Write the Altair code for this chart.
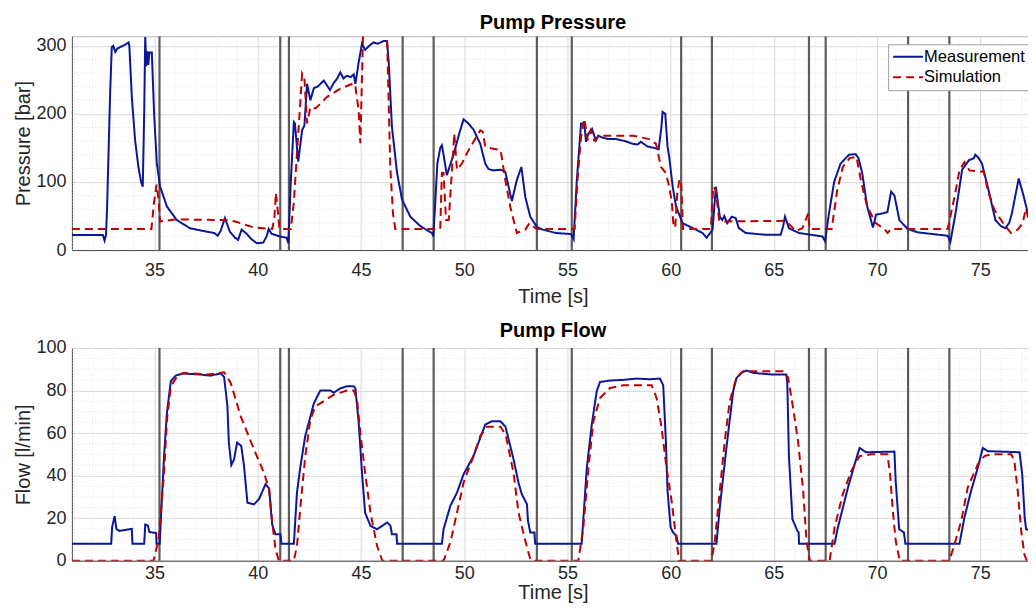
import altair as alt
import pandas as pd

# ---------------- data ----------------
events = [35.24, 41.09, 41.51, 47.02, 48.52, 53.52, 55.21, 60.51, 62.0, 66.70, 67.51, 71.5, 73.5]

p_meas_t = [31.0, 32.5, 32.58, 32.65, 32.7, 32.85, 32.93, 33.0, 33.1, 33.2, 33.4, 33.6, 33.74, 33.78, 33.9,
            34.06, 34.22, 34.35, 34.43, 34.5, 34.55, 34.6, 34.65, 34.7, 34.75, 34.87, 34.98, 35.11, 35.27,
            35.6, 36.08, 36.72, 37.53, 37.9, 38.06, 38.2, 38.41, 38.65, 38.9, 39.05, 39.22, 39.46, 39.7,
            39.95, 40.27, 40.43, 40.53, 40.67, 41.07, 41.4, 41.48, 41.6, 41.75, 41.8, 41.96, 42.15, 42.26,
            42.39, 42.55, 42.72, 42.9, 43.2, 43.5, 43.67, 43.85, 44.0, 44.15, 44.32, 44.5, 44.65, 44.73,
            44.89, 45.05, 45.2, 45.4, 45.6, 45.8, 46.1, 46.26, 46.34, 46.5, 46.75, 46.99, 47.39, 47.88,
            48.44, 48.5, 48.58, 48.7, 48.84, 48.92, 49.0, 49.16, 49.48, 49.75, 49.97, 50.2, 50.45, 50.78,
            51.02, 51.18, 51.4, 51.75, 51.99, 52.1, 52.31, 52.55, 52.77, 52.96, 53.2, 53.52, 53.8, 54.45,
            55.18, 55.3, 55.45, 55.66, 55.82, 55.9, 56.0, 56.19, 56.38, 56.5, 56.7, 57.0, 57.35, 57.8,
            58.16, 58.4, 58.56, 58.88, 59.2, 59.42, 59.55, 59.61, 59.74, 59.85, 59.93, 60.1, 60.26, 60.58,
            61.22, 61.55, 61.74, 62.03, 62.19, 62.27, 62.38, 62.5, 62.6, 62.74, 62.96, 63.15, 63.3, 63.64,
            64.6, 65.33, 65.45, 65.54, 65.73, 66.22, 67.35, 67.48, 67.67, 67.92, 68.23, 68.64, 68.96, 69.1,
            69.28, 69.52, 69.8, 69.95, 70.3, 70.5, 70.68, 70.84, 71.08, 71.48, 71.97, 73.42, 73.55, 73.8,
            74.12, 74.45, 74.69, 74.76, 74.9, 75.08, 75.4, 75.73, 76.0, 76.21, 76.4, 76.53, 76.86, 77.0,
            77.1, 77.42, 77.6]
p_meas_v = [22, 22, 14, 22, 60, 230, 298, 300, 291, 296, 299, 302, 305, 300, 225,
            161, 122, 100, 93, 200, 313, 270, 292, 272, 290, 290, 200, 128, 93,
            64, 44, 32, 27, 25, 21, 28, 47, 27, 18, 15, 30, 24, 16,
            10, 11, 20, 31, 24, 20, 18, 10, 100, 188, 186, 130, 176, 183,
            244, 220, 238, 240, 249, 235, 245, 252, 261, 252, 256, 254, 258, 244,
            276, 303, 294, 300, 305, 303, 307, 307, 278, 181, 113, 74, 49, 35,
            25, 20, 60, 127, 150, 154, 140, 110, 140, 170, 192, 186, 177, 156,
            127, 119, 117, 118, 115, 100, 72, 103, 122, 78, 49, 34, 30, 25,
            23.5, 16, 100, 186, 186, 159, 170, 178, 161, 168, 165, 163, 163, 160,
            156, 155, 159, 152, 150, 148, 180, 203, 200, 152, 137, 93, 64, 39.5,
            30, 25, 18, 30, 93, 74, 49, 44, 50, 39.5, 49, 47, 32.4, 25,
            22.5, 22.5, 35, 49, 32, 25, 20, 13, 54, 100, 127, 140, 141, 135,
            113, 64, 33, 52, 54, 56, 86, 80, 44, 31, 26, 21, 12, 54,
            118, 132, 135, 140, 136, 127, 88, 44, 35, 32, 40, 54, 105, 90,
            79, 39.5, 30]

p_sim_t = [31.0, 34.85, 34.97, 35.1, 35.2, 35.27, 36.0, 38.5, 38.9, 39.82, 40.7, 40.8, 40.88, 40.96, 41.05,
           41.6, 41.75, 41.9, 42.15, 42.26, 42.39, 42.55, 42.8, 43.36, 44.0, 44.65, 44.73, 44.89, 44.97,
           45.05, 45.1, 46.26, 46.34, 46.42, 46.55, 46.66, 48.84, 48.92, 49.0, 49.12, 49.25, 49.4, 49.52,
           49.65, 49.89, 50.13, 50.45, 50.78, 50.9, 51.02, 51.35, 51.74, 51.8, 51.99, 52.23, 52.55, 52.96,
           53.16, 53.5, 55.35, 55.5, 55.66, 55.82, 55.98, 56.14, 56.3, 56.54, 57.03, 58.16, 58.96, 59.29,
           59.53, 59.77, 59.93, 60.06, 60.14, 60.22, 60.32, 60.42, 60.5, 60.6, 61.95, 62.06, 62.19, 62.35,
           62.6, 65.57, 66.06, 66.38, 66.67, 66.73, 67.8, 68.07, 68.34, 68.67, 69.0, 69.23, 69.52, 69.93,
           70.35, 70.51, 70.67, 73.42, 73.75, 73.99, 74.23, 74.47, 75.17, 75.36, 75.68, 76.16, 76.49,
           76.81, 77.05, 77.21, 77.37, 77.6]
p_sim_v = [31, 31, 69, 96, 73, 42, 45, 44, 42, 33, 31, 45, 84, 60, 31,
           31, 70, 142, 259, 252, 186, 210, 208, 225, 237, 245, 240, 204, 157,
           254, 316, 316, 220, 122, 54, 31, 31, 113, 113, 44, 44, 113, 171,
           118, 127, 142, 159, 176, 174, 152, 149, 147, 140, 103, 64, 25, 30,
           39.5, 31, 31, 108, 166, 193, 161, 176, 161, 168, 168, 168, 163, 156,
           122, 113, 93, 70, 35, 33, 83, 103, 103, 31, 31, 93, 88, 44,
           42, 43, 28, 32, 54, 31, 31, 88, 122, 135, 137, 100, 64, 39.5,
           31, 25, 31, 31, 78, 117, 129, 117, 115, 88, 59, 37, 25,
           30, 39.5, 61, 41, 34]

f_meas_t = [31.0, 32.9, 32.95, 33.07, 33.15, 33.3, 33.9, 33.93, 34.5, 34.55, 34.68, 34.75, 35.08, 35.1, 35.25,
            35.46, 35.6, 35.79, 36.03, 36.35, 37.25, 37.7, 38.2, 38.37, 38.53, 38.6, 38.72, 38.85, 39.0,
            39.2, 39.33, 39.5, 39.82, 40.06, 40.38, 40.55, 40.7, 40.86, 41.1, 41.15, 41.75, 41.9, 42.07,
            42.3, 42.47, 42.72, 43.03, 43.52, 43.68, 44.0, 44.32, 44.65, 44.73, 44.89, 45.05, 45.2, 45.46,
            45.78, 46.27, 46.43, 46.5, 46.72, 46.75, 48.92, 49.0, 49.33, 49.65, 49.97, 50.45, 50.78, 51.02,
            51.35, 51.75, 52.0, 52.39, 52.63, 52.79, 53.04, 53.09, 53.2, 53.4, 53.44, 55.69, 55.94, 56.18,
            56.42, 56.58, 57.07, 57.71, 58.35, 59.0, 59.48, 59.64, 59.77, 59.85, 60.0, 60.12, 60.28, 60.36,
            62.22, 62.38, 62.7, 63.03, 63.19, 63.43, 63.67, 63.99, 64.96, 65.6, 65.65, 65.73, 65.9, 66.14,
            66.2, 66.22, 67.94, 68.1, 68.59, 68.91, 69.15, 69.31, 69.47, 70.84, 70.9, 71.07, 71.3, 71.37,
            73.99, 74.23, 74.55, 74.88, 75.12, 75.36, 76.9, 77.03, 77.15, 77.22, 77.6]
f_meas_v = [8, 8, 16, 21, 15, 14, 15, 8, 8, 17, 16.5, 13.5, 13, 8, 8,
            49, 69.5, 84.4, 87, 88, 87.5, 87, 88, 86.5, 72.7, 55.5, 45, 47.5, 55.5,
            54, 45, 27.3, 26.5, 29, 36, 34, 17, 12.5, 12.5, 8, 8, 32, 44.5,
            58.6, 64.8, 74, 80, 80, 79, 81, 82, 82, 81, 64.8, 41.4, 22.6, 16.4,
            14.8, 18, 16.4, 12.5, 12.5, 8, 8, 14.8, 25.8, 32, 40.6, 49.2, 57.8, 64,
            65.6, 65.6, 63, 47.7, 36.7, 31.3, 26.6, 18.75, 13.3, 13.3, 8, 8, 43.7, 64,
            79.7, 84, 84.7, 85, 85.6, 85.3, 85.6, 82.5, 56, 32.8, 15.6, 13.3, 11.7, 8,
            8, 25, 53, 79.7, 85.9, 88.3, 89.4, 88.3, 87.5, 87.5, 83.6, 49, 19.5, 14,
            13.3, 8, 8, 15.6, 34.4, 45.3, 53, 52, 51, 51.3, 37.5, 14.8, 13.3, 8,
            8, 20.3, 32.8, 43.8, 53, 51.5, 51, 40.6, 20.3, 14.8, 14]

f_sim_t = [31.0, 34.95, 35.2, 35.46, 35.6, 35.79, 36.1, 36.43, 37.57, 38.37, 38.69, 39.17, 39.82, 40.3, 40.55,
           40.7, 40.86, 41.02, 41.75, 41.9, 42.07, 42.3, 42.55, 42.8, 43.2, 43.68, 44.32, 44.65, 44.81,
           44.97, 45.2, 45.46, 45.78, 46.03, 49.0, 49.33, 49.65, 49.97, 50.45, 50.78, 51.1, 51.75, 52.0,
           52.39, 52.63, 52.96, 53.2, 53.3, 55.53, 55.77, 56.02, 56.26, 56.58, 57.07, 57.71, 59.08, 59.32,
           59.56, 59.8, 60.05, 60.28, 60.41, 61.98, 62.14, 62.38, 62.62, 62.86, 63.19, 63.51, 65.44, 65.69,
           65.93, 66.17, 66.42, 66.58, 66.74, 67.7, 67.94, 68.34, 68.75, 69.15, 69.72, 70.5, 70.63, 70.75,
           70.9, 71.1, 73.5, 73.74, 74.07, 74.39, 74.88, 75.2, 75.53, 76.5, 76.65, 76.81, 76.98, 77.14,
           77.25, 77.6]
f_sim_v = [0, 0, 10, 41, 66, 82, 86.7, 88.3, 87.5, 88.6, 83.6, 68, 52.3, 41.4, 33.6,
           18, 5.5, 0, 0, 7, 25.8, 49, 66.4, 72.6, 75, 78, 80, 80, 75.8,
           60, 41.4, 22.6, 7, 0, 0, 8.6, 22.6, 36.7, 49.2, 58.6, 63, 63, 59.4,
           41.4, 22.6, 9.4, 0.8, 0, 0, 15.6, 43.7, 65.6, 76.5, 81.2, 82.5, 82.5, 76.5,
           62.5, 43.7, 28, 9.4, 0, 0, 9.4, 32.8, 56.2, 75, 86, 89, 89, 86,
           71.9, 56.2, 32.8, 9.4, 0, 0, 15.6, 31.3, 42.2, 49.2, 50, 50, 40.6, 25,
           9.4, 0, 0, 7.5, 18.4, 34.4, 45.3, 49.2, 50, 50, 46.9, 32.8, 14, 2.8,
           0, 0]

x_major = [35, 40, 45, 50, 55, 60, 65, 70, 75]
x_minor = [t for t in range(31, 78) if t % 5 != 0]
p_major = [0, 100, 200, 300]
p_minor = [v for v in range(20, 320, 20) if v % 100 != 0]
f_major = [0, 20, 40, 60, 80, 100]
f_minor = [v for v in range(5, 100, 5) if v % 20 != 0]

series = ["Measurement", "Simulation"]

# ---------------- styling ----------------
FONT = "Liberation Sans"
BLUE = "#0b1796"
RED = "#c00000"
T_MIN, T_MAX = 31, 77.6


def series_df(t_list, v_list, name):
    return pd.DataFrame({"t": t_list, "v": v_list, "series": name, "i": range(len(t_list))})


def panel(meas_t, meas_v, sim_t, sim_v, y_max, y_major, y_minor, y_title, title, height,
          x_label_pad, x_title_pad, title_offset):
    xs = alt.Scale(domain=[T_MIN, T_MAX], nice=False, zero=False)
    ys = alt.Scale(domain=[0, y_max], nice=False, zero=False)
    xax = alt.Axis(values=x_major, title="Time [s]", grid=True, gridColor="#d9d9d9",
                   ticks=False, labelPadding=x_label_pad, titlePadding=x_title_pad, format="d")
    yax = alt.Axis(values=y_major, title=y_title, grid=True, gridColor="#d9d9d9",
                   ticks=False, labelPadding=6, titlePadding=2, format="d")

    minor_x = alt.Chart(pd.DataFrame({"t": x_minor})).mark_rule(
        color="#e4e4e4", strokeDash=[1, 2], strokeWidth=1
    ).encode(x=alt.X("t:Q", scale=xs, axis=xax))
    minor_y = alt.Chart(pd.DataFrame({"v": y_minor})).mark_rule(
        color="#e4e4e4", strokeDash=[1, 2], strokeWidth=1
    ).encode(y=alt.Y("v:Q", scale=ys, axis=yax))
    ev = alt.Chart(pd.DataFrame({"t": events})).mark_rule(
        color="#5c5c5c", strokeWidth=2.2
    ).encode(x=alt.X("t:Q", scale=xs, axis=xax))

    leg = alt.Legend(title=None, orient="none", legendX=817, legendY=8)
    df = pd.concat([series_df(meas_t, meas_v, series[0]), series_df(sim_t, sim_v, series[1])])
    lines = alt.Chart(df).mark_line(strokeWidth=2, clip=True).encode(
        x=alt.X("t:Q", scale=xs, axis=xax),
        y=alt.Y("v:Q", scale=ys, axis=yax),
        color=alt.Color("series:N", scale=alt.Scale(domain=series, range=[BLUE, RED]), legend=leg),
        strokeDash=alt.StrokeDash("series:N", scale=alt.Scale(domain=series, range=[[1, 0], [8, 5]]),
                                  legend=leg),
        order=alt.Order("i:Q"),
        detail="series:N",
    )
    return alt.layer(minor_x, minor_y, ev, lines).properties(
        width=963, height=height,
        title=alt.TitleParams(title, fontSize=20, fontWeight="bold", font=FONT, color="#000000",
                              offset=title_offset),
    )


top = panel(p_meas_t, p_meas_v, p_sim_t, p_sim_v, 314, p_major, p_minor, "Pressure [bar]",
            "Pump Pressure", 214, 11, 7, 2)
bottom = panel(f_meas_t, f_meas_v, f_sim_t, f_sim_v, 100, f_major, f_minor, "Flow [l/min]",
               "Pump Flow", 213, 4, 0, -2)

chart = alt.vconcat(top, bottom, spacing=13).properties(
    padding={"left": 5, "top": 4, "right": -7, "bottom": 0}
).configure_view(
    stroke="#b4b4b4", strokeWidth=1
).configure_axis(
    labelFont=FONT, labelFontSize=18, labelColor="#262626",
    titleFont=FONT, titleFontSize=20, titleFontWeight="normal", titleColor="#262626",
    domainColor="#4d4d4d", domainWidth=1,
).configure_legend(
    labelFont=FONT, labelFontSize=16.5, labelColor="#000000", symbolType="M-1,0H3",
    symbolSize=225, symbolStrokeWidth=2, padding=4, rowPadding=3.5, labelOffset=15,
    fillColor="#ffffff", strokeColor="#a0a0a0", cornerRadius=0, labelLimit=300,
)

chart.save("out.html", embed_options={"renderer": "svg", "actions": False})
